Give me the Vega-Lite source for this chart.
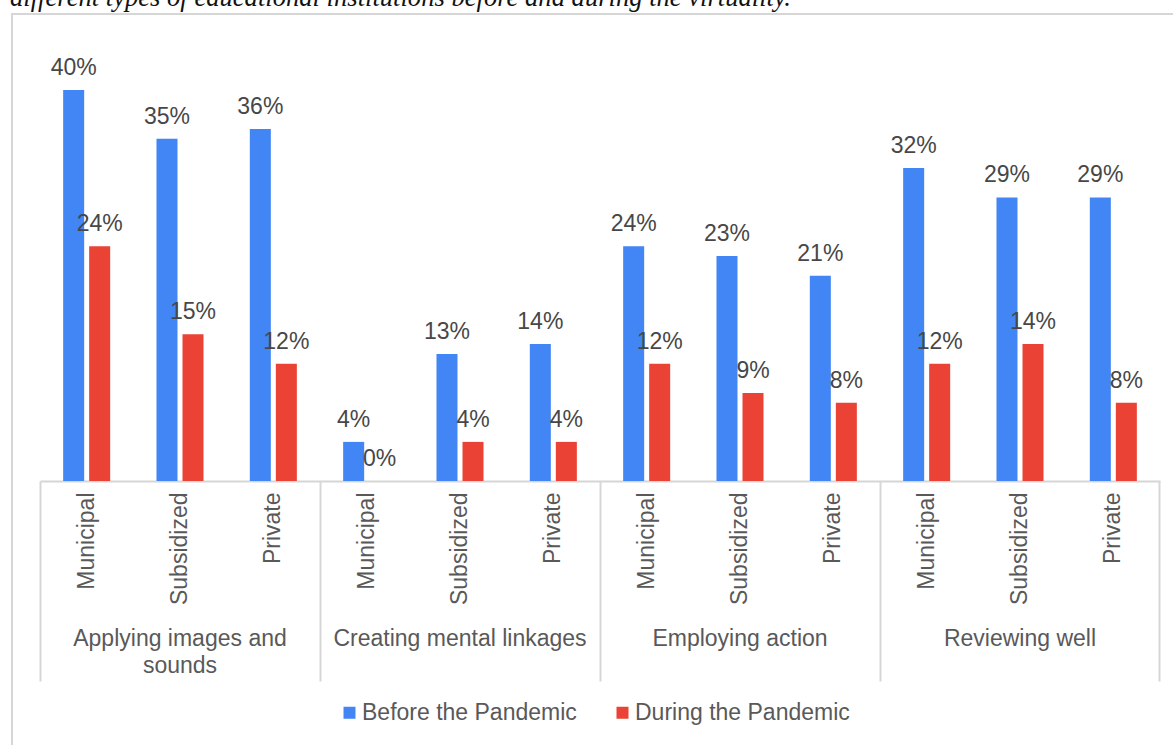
{
  "$schema": "https://vega.github.io/schema/vega-lite/v6.json",
  "autosize": {"type": "none"},
  "width": 1163,
  "height": 733,
  "padding": {"left": 12, "top": 14, "right": -2, "bottom": -2},
  "background": "white",
  "title": {
    "text": "different types of educational institutions before and during the virtuality.",
    "anchor": "start",
    "font": "Liberation Serif",
    "fontStyle": "italic",
    "fontWeight": "normal",
    "fontSize": 26.6,
    "color": "#111111",
    "offset": 2,
    "dx": -2
  },
  "data": {
    "values": [
      {"slot": "Applying images and sounds|Municipal", "category": "Applying images and sounds", "institution": "Municipal", "series": "Before the Pandemic", "value": 0.40},
      {"slot": "Applying images and sounds|Municipal", "category": "Applying images and sounds", "institution": "Municipal", "series": "During the Pandemic", "value": 0.24},
      {"slot": "Applying images and sounds|Subsidized", "category": "Applying images and sounds", "institution": "Subsidized", "series": "Before the Pandemic", "value": 0.35},
      {"slot": "Applying images and sounds|Subsidized", "category": "Applying images and sounds", "institution": "Subsidized", "series": "During the Pandemic", "value": 0.15},
      {"slot": "Applying images and sounds|Private", "category": "Applying images and sounds", "institution": "Private", "series": "Before the Pandemic", "value": 0.36},
      {"slot": "Applying images and sounds|Private", "category": "Applying images and sounds", "institution": "Private", "series": "During the Pandemic", "value": 0.12},
      {"slot": "Creating mental linkages|Municipal", "category": "Creating mental linkages", "institution": "Municipal", "series": "Before the Pandemic", "value": 0.04},
      {"slot": "Creating mental linkages|Municipal", "category": "Creating mental linkages", "institution": "Municipal", "series": "During the Pandemic", "value": 0.0},
      {"slot": "Creating mental linkages|Subsidized", "category": "Creating mental linkages", "institution": "Subsidized", "series": "Before the Pandemic", "value": 0.13},
      {"slot": "Creating mental linkages|Subsidized", "category": "Creating mental linkages", "institution": "Subsidized", "series": "During the Pandemic", "value": 0.04},
      {"slot": "Creating mental linkages|Private", "category": "Creating mental linkages", "institution": "Private", "series": "Before the Pandemic", "value": 0.14},
      {"slot": "Creating mental linkages|Private", "category": "Creating mental linkages", "institution": "Private", "series": "During the Pandemic", "value": 0.04},
      {"slot": "Employing action|Municipal", "category": "Employing action", "institution": "Municipal", "series": "Before the Pandemic", "value": 0.24},
      {"slot": "Employing action|Municipal", "category": "Employing action", "institution": "Municipal", "series": "During the Pandemic", "value": 0.12},
      {"slot": "Employing action|Subsidized", "category": "Employing action", "institution": "Subsidized", "series": "Before the Pandemic", "value": 0.23},
      {"slot": "Employing action|Subsidized", "category": "Employing action", "institution": "Subsidized", "series": "During the Pandemic", "value": 0.09},
      {"slot": "Employing action|Private", "category": "Employing action", "institution": "Private", "series": "Before the Pandemic", "value": 0.21},
      {"slot": "Employing action|Private", "category": "Employing action", "institution": "Private", "series": "During the Pandemic", "value": 0.08},
      {"slot": "Reviewing well|Municipal", "category": "Reviewing well", "institution": "Municipal", "series": "Before the Pandemic", "value": 0.32},
      {"slot": "Reviewing well|Municipal", "category": "Reviewing well", "institution": "Municipal", "series": "During the Pandemic", "value": 0.12},
      {"slot": "Reviewing well|Subsidized", "category": "Reviewing well", "institution": "Subsidized", "series": "Before the Pandemic", "value": 0.29},
      {"slot": "Reviewing well|Subsidized", "category": "Reviewing well", "institution": "Subsidized", "series": "During the Pandemic", "value": 0.14},
      {"slot": "Reviewing well|Private", "category": "Reviewing well", "institution": "Private", "series": "Before the Pandemic", "value": 0.29},
      {"slot": "Reviewing well|Private", "category": "Reviewing well", "institution": "Private", "series": "During the Pandemic", "value": 0.08}
    ]
  },
  "encoding": {
    "xOffset": {
      "field": "series",
      "type": "nominal",
      "sort": ["Before the Pandemic", "During the Pandemic"],
      "scale": {"paddingInner": 0.192, "paddingOuter": 0.89}
    },
    "y": {
      "field": "value",
      "type": "quantitative",
      "scale": {"domain": [0, 0.45], "nice": false, "zero": true, "range": [467, 27]},
      "axis": null
    }
  },
  "layer": [
    {
      "mark": {"type": "bar"},
      "encoding": {
        "x": {
          "field": "slot",
          "type": "nominal",
          "sort": null,
          "scale": {"paddingInner": 0, "paddingOuter": 0, "range": [28, 1148]},
          "axis": {
            "title": null,
            "orient": "bottom",
            "offset": -266,
            "bandPosition": 0,
            "domain": true,
            "domainColor": "#d6d6d6",
            "domainWidth": 2,
            "ticks": true,
            "tickSize": 200,
            "tickWidth": 2,
            "tickColor": "#d6d6d6",
            "tickOpacity": {"condition": {"test": "indexof(datum.value, '|Municipal') >= 0", "value": 1}, "value": 0},
            "labelExpr": "split(datum.value, '|')[1]",
            "labelAngle": -90,
            "labelAlign": "right",
            "labelBaseline": "middle",
            "labelPadding": -189,
            "labelFont": "Liberation Sans",
            "labelFontSize": 23,
            "labelColor": "#595959",
            "labelOverlap": false,
            "labelBound": false,
            "labelFlush": false
          }
        },
        "color": {
          "field": "series",
          "type": "nominal",
          "scale": {"domain": ["Before the Pandemic", "During the Pandemic"], "range": ["#4285F4", "#EA4335"]},
          "legend": {
            "title": null,
            "orient": "bottom",
            "direction": "horizontal",
            "symbolType": "square",
            "symbolSize": 144,
            "symbolStrokeWidth": 0,
            "labelFont": "Liberation Sans",
            "labelFontSize": 23,
            "labelColor": "#595959",
            "labelLimit": 400,
            "columnPadding": 34,
            "labelOffset": 1,
            "offset": -46
          }
        }
      }
    },
    {
      "mark": {
        "type": "text",
        "baseline": "alphabetic",
        "align": "center",
        "dy": -15,
        "font": "Liberation Sans",
        "fontSize": 23,
        "color": "#474747"
      },
      "encoding": {
        "x": {
          "field": "slot",
          "type": "nominal",
          "sort": null,
          "scale": {"paddingInner": 0, "paddingOuter": 0, "range": [28, 1148]},
          "axis": {
            "title": null,
            "orient": "bottom",
            "offset": -266,
            "bandPosition": 1,
            "domain": false,
            "ticks": true,
            "tickSize": 200,
            "tickWidth": 2,
            "tickColor": "#d6d6d6",
            "tickOpacity": {"condition": {"test": "datum.value == 'Reviewing well|Private'", "value": 1}, "value": 0},
            "labelExpr": "indexof(datum.value, '|Subsidized') >= 0 ? (indexof(datum.value, 'Applying') == 0 ? ['Applying images and', 'sounds'] : split(datum.value, '|')[0]) : ''",
            "labelAngle": 0,
            "labelAlign": "center",
            "labelBaseline": "top",
            "labelPadding": -54,
            "labelLineHeight": 27,
            "labelFont": "Liberation Sans",
            "labelFontSize": 23,
            "labelColor": "#595959",
            "labelOverlap": false,
            "labelBound": false,
            "labelFlush": false,
            "labelLimit": 400
          }
        },
        "text": {"field": "value", "type": "quantitative", "format": ".0%"}
      }
    }
  ],
  "resolve": {"axis": {"x": "independent"}},
  "config": {
    "view": {"stroke": "#d6d6d6", "strokeWidth": 2},
    "legend": {"layout": {"bottom": {"anchor": "middle"}}}
  }
}
